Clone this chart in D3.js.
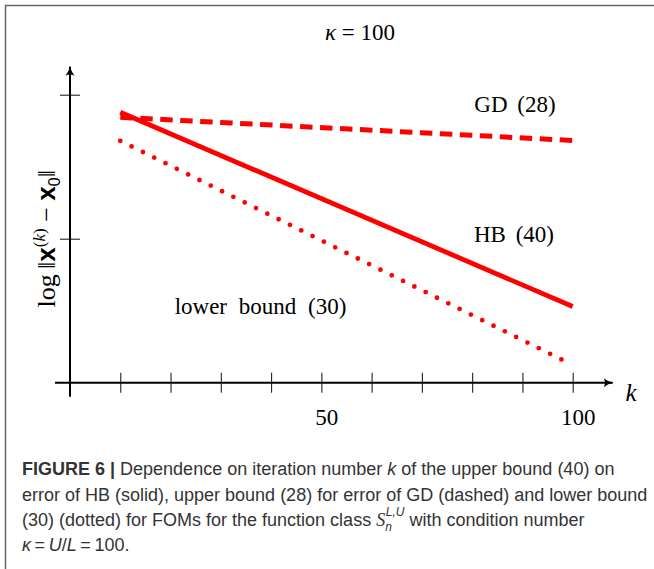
<!DOCTYPE html>
<html>
<head>
<meta charset="utf-8">
<script src="https://cdn.jsdelivr.net/npm/d3@7"></script>
<style>
  body { margin: 0; background: #fff; }
  svg { display: block; }
</style>
</head>
<body>
<svg width="654" height="569"></svg>
<script>
// iteration numbers where the bounds are drawn (lines are straight in log scale)
const kValues = [10, 100];
const hbBound = [1.878, 0.529];      // HB (40), solid
const gdBound = [1.843, 1.682];      // GD (28), dashed
const lowerBound = [1.68, 0.123];    // lower bound (30), dotted
const xTicks = [10, 20, 30, 40, 50, 60, 70, 80, 90, 100];
const xTickLabels = [50, 100];
const yTicks = [1, 2];

const svg = d3.select("svg");
const serif = "'Liberation Serif', 'Times New Roman', serif";
const sans = "'Liberation Sans', Arial, sans-serif";

// frame
svg.append("rect")
    .attr("x", 5.5).attr("y", 5.5)
    .attr("width", 700).attr("height", 600)
    .attr("fill", "none")
    .attr("stroke", "#666")
    .attr("stroke-width", 1.5);

const x = d3.scaleLinear().domain([0, 100]).range([70, 572.7]);
const y = d3.scaleLinear().domain([0, 2]).range([382.7, 94.7]);

const defs = svg.append("defs");
defs.append("marker")
    .attr("id", "arrow")
    .attr("viewBox", "0 -5 10 10")
    .attr("refX", 9).attr("refY", 0)
    .attr("markerWidth", 10).attr("markerHeight", 10)
    .attr("markerUnits", "userSpaceOnUse")
    .attr("orient", "auto")
    .append("path")
    .attr("d", "M0,-4.5 Q4,-1 10,0 Q4,1 0,4.5 Q2.5,0 0,-4.5Z")
    .attr("fill", "#000");

// x ticks (crossing the axis)
const xTickG = svg.append("g")
    .attr("transform", `translate(0, ${y(0) - 10})`)
    .call(d3.axisBottom(x).tickValues(xTicks).tickSize(20).tickFormat(""));
xTickG.select(".domain").remove();
xTickG.selectAll("line").attr("stroke", "#222").attr("stroke-width", 1.1);

// y ticks
const yTickG = svg.append("g")
    .attr("transform", `translate(${x(0) + 10}, 0)`)
    .call(d3.axisLeft(y).tickValues(yTicks).tickSize(20).tickFormat(""));
yTickG.select(".domain").remove();
yTickG.selectAll("line").attr("stroke", "#222").attr("stroke-width", 1.1);

// axis lines with arrows
svg.append("line")
    .attr("x1", x(0) - 15).attr("x2", 612.7)
    .attr("y1", y(0)).attr("y2", y(0))
    .attr("stroke", "#000").attr("stroke-width", 2)
    .attr("marker-end", "url(#arrow)");
svg.append("line")
    .attr("x1", x(0)).attr("x2", x(0))
    .attr("y1", y(0) + 14).attr("y2", 66.7)
    .attr("stroke", "#000").attr("stroke-width", 2)
    .attr("marker-end", "url(#arrow)");

// x tick labels
const xLabelG = svg.append("g")
    .attr("transform", `translate(5, ${y(0) + 23})`)
    .call(d3.axisBottom(x).tickValues(xTickLabels).tickSize(0).tickFormat(d3.format("d")));
xLabelG.select(".domain").remove();
xLabelG.selectAll("text")
    .attr("font-family", serif)
    .attr("font-size", 23)
    .attr("fill", "#000");

// lines
const line = d3.line().x(d => x(d[0])).y(d => y(d[1]));
const pairs = arr => kValues.map((k, i) => [k, arr[i]]);

svg.append("path")
    .attr("d", line(pairs(gdBound)))
    .attr("fill", "none").attr("stroke", "#ff0000")
    .attr("stroke-width", 5)
    .attr("stroke-dasharray", "12.5 7.5");

svg.append("path")
    .attr("d", line(pairs(hbBound)))
    .attr("fill", "none").attr("stroke", "#ff0000")
    .attr("stroke-width", 4.8);

const dotted = svg.append("path")
    .attr("d", line(pairs(lowerBound)))
    .attr("fill", "none").attr("stroke", "#ff0000")
    .attr("stroke-width", 4.8)
    .attr("stroke-linecap", "round");
const len = dotted.node().getTotalLength();
dotted.attr("stroke-dasharray", `0 ${len / 40}`);

// chart labels
function label(txt, cx, by, size, ws) {
    svg.append("text")
        .attr("x", cx).attr("y", by)
        .attr("font-family", serif)
        .attr("font-size", size)
        .attr("text-anchor", "middle")
        .attr("word-spacing", ws)
        .text(txt);
}
label("GD (28)", 515, 111.7, 23, 4);
label("HB (40)", 514, 242, 23, 4);
label("lower bound (30)", 260.5, 314.3, 23, 6);

const title = svg.append("text")
    .attr("x", 360).attr("y", 40)
    .attr("font-family", serif)
    .attr("font-size", 23)
    .attr("text-anchor", "middle");
title.append("tspan").attr("font-style", "italic").text("κ");
title.append("tspan").text("\u2005=\u2005100");

svg.append("text")
    .attr("x", 631).attr("y", 400.7)
    .attr("font-family", serif)
    .attr("font-size", 25)
    .attr("font-style", "italic")
    .attr("text-anchor", "middle")
    .text("k");

// y axis label
const yl = svg.append("text")
    .attr("transform", `translate(55, ${y(1)}) rotate(-90)`)
    .attr("font-family", serif)
    .attr("font-size", 26)
    .attr("text-anchor", "middle");
yl.append("tspan").text("log\u2009\u2016");
yl.append("tspan").attr("font-weight", "bold").attr("font-family", sans).text("x");
yl.append("tspan").attr("font-size", 17).attr("dy", -10).text("(");
yl.append("tspan").attr("font-size", 17).attr("font-style", "italic").text("k");
yl.append("tspan").attr("font-size", 17).text(")");
yl.append("tspan").attr("dy", 10).text("\u2005\u2212\u2005");
yl.append("tspan").attr("font-weight", "bold").attr("font-family", sans).text("x");
yl.append("tspan").attr("font-size", 16).attr("font-family", sans).attr("dy", 5).text("0");
yl.append("tspan").attr("dy", -5).text("\u2016");

// caption
const cap = svg.append("g")
    .attr("font-family", sans)
    .attr("font-size", 18)
    .attr("fill", "#333");

const l1 = cap.append("text").attr("x", 22).attr("y", 475);
l1.append("tspan").attr("font-weight", "bold").text("FIGURE 6 | ");
l1.append("tspan").text("Dependence on iteration number ");
l1.append("tspan").attr("font-style", "italic").text("k");
l1.append("tspan").text(" of the upper bound (40) on");

cap.append("text").attr("x", 22).attr("y", 500.5)
    .text("error of HB (solid), upper bound (28) for error of GD (dashed) and lower bound");

const l3 = cap.append("text").attr("x", 22).attr("y", 525.5);
l3.append("tspan").text("(30) (dotted) for FOMs for the function class ");
l3.append("tspan").attr("font-family", serif).attr("font-style", "italic").text("S");
l3.append("tspan").attr("font-style", "italic").attr("font-size", 12).attr("dy", 5).text("n");
l3.append("tspan").attr("font-style", "italic").attr("font-size", 12).attr("dx", -6).attr("dy", -15).text("L,U");
l3.append("tspan").attr("dy", 10).text(" with condition number");

const l4 = cap.append("text").attr("x", 22).attr("y", 551);
l4.append("tspan").attr("font-style", "italic").text("κ");
l4.append("tspan").text("\u2009=\u2009");
l4.append("tspan").attr("font-style", "italic").text("U");
l4.append("tspan").text("/");
l4.append("tspan").attr("font-style", "italic").text("L");
l4.append("tspan").text("\u2009=\u2009100.");
</script>
</body>
</html>
